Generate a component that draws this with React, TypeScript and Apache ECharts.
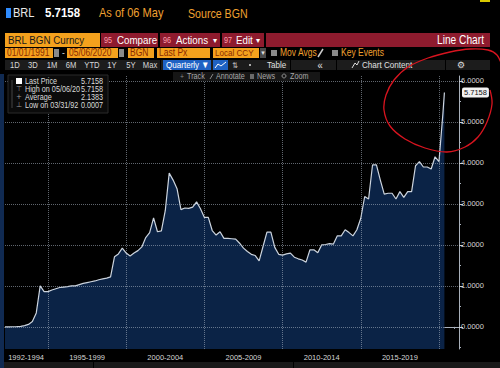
import React, { useEffect, useRef } from "react";
import * as echarts from "echarts";

// ---- data (quarter-end values, BRL per USD) ----
const years = [1992, 1993, 1994, 1995, 1996, 1997, 1998, 1999, 2000, 2001, 2002, 2003, 2004, 2005, 2006, 2007, 2008, 2009, 2010, 2011, 2012, 2013, 2014, 2015, 2016, 2017, 2018, 2019, 2020];
const quarterlyValues = [
  [0.0007, 0.0013, 0.0027, 0.0056],
  [0.01, 0.03, 0.06, 0.13],
  [0.34, 1.0, 0.86, 0.86],
  [0.9, 0.93, 0.96, 0.97],
  [0.98, 1.0, 1.0, 1.03],
  [1.06, 1.08, 1.1, 1.12],
  [1.15, 1.17, 1.19, 1.22],
  [1.71, 1.78, 1.92, 1.8],
  [1.73, 1.8, 1.86, 1.95],
  [2.18, 2.3, 2.66, 2.32],
  [2.34, 2.84, 3.75, 3.58],
  [3.37, 2.86, 2.9, 2.89],
  [2.92, 3.05, 2.88, 2.67],
  [2.67, 2.35, 2.24, 2.32],
  [2.16, 2.16, 2.15, 2.14],
  [2.04, 1.92, 1.84, 1.77],
  [1.74, 1.61, 1.96, 2.31],
  [2.31, 1.94, 1.77, 1.75],
  [1.78, 1.8, 1.7, 1.66],
  [1.63, 1.58, 1.88, 1.88],
  [1.81, 2.0, 2.01, 2.03],
  [2.02, 2.22, 2.22, 2.37],
  [2.3, 2.22, 2.37, 2.65],
  [3.18, 3.12, 3.95, 3.95],
  [3.58, 3.24, 3.26, 3.26],
  [3.12, 3.3, 3.16, 3.3],
  [3.3, 3.93, 4.03, 3.9],
  [3.9, 3.85, 4.15, 4.03],
  [5.2],
];
const lastDate = 2020.347; // 05/06/2020
const lastValue = 5.7158;

const periodLabels = ["1992-1994", "1995-1999", "2000-2004", "2005-2009", "2010-2014", "2015-2019"];
const periodLabelPos = [1993.6, 1997.5, 2002.5, 2007.5, 2012.5, 2017.5];
const periodBounds = [1995, 2000, 2005, 2010, 2015, 2020];
const yearTicks = [1993, 1994, 1996, 1997, 1998, 1999, 2001, 2002, 2003, 2004, 2006, 2007, 2008, 2009, 2011, 2012, 2013, 2014, 2016, 2017, 2018, 2019, 2021];
const yTicks = [0, 1, 2, 3, 4, 5, 6];
const yMinorTicks = [-0.5, 0.5, 1.5, 2.5, 3.5, 4.5, 5.5];

const legendRows = [
  { icon: "sq", label: "Last Price", value: "5.7158" },
  { icon: "⊤", label: "High on 05/06/20", value: "5.7158" },
  { icon: "+", label: "Average", value: "2.1383" },
  { icon: "⊥", label: "Low on 03/31/92", value: "0.0007" },
];

const FONT = '"Liberation Sans", Arial, sans-serif';
const ORANGE = "#f4a11d";
const RED = "#8e1b2e";
const AMBER_TXT = "#f0a030";

function T(x: number, y: number, text: string, fill: string, size: number, extra: any = {}) {
  const s = extra.scale ?? 0.85;
  return {
    type: "text", x, y, z: 100, silent: true, scaleX: s, scaleY: 1,
    style: {
      text, fill, fontSize: size, fontFamily: extra.family || FONT,
      fontWeight: extra.bold ? "bold" : "normal",
      align: extra.align || "left", textAlign: extra.align || "left",
      verticalAlign: "middle", textVerticalAlign: "middle",
    },
  };
}
function R(x: number, y: number, w: number, h: number, fill: string, extra: any = {}) {
  return { type: "rect", z: 90, silent: true, shape: { x, y, width: w, height: h }, style: { fill, ...extra } };
}
function L(x1: number, y1: number, x2: number, y2: number, stroke: string, w = 1) {
  return { type: "line", z: 95, silent: true, shape: { x1, y1, x2, y2 }, style: { stroke, lineWidth: w } };
}

export default function App() {
  const ref = useRef<HTMLDivElement>(null);
  useEffect(() => {
    if (!ref.current) return;
    const chart = echarts.init(ref.current, null, { renderer: "svg" });

    const seriesData: number[][] = [];
    years.forEach((yr, i) => {
      quarterlyValues[i].forEach((v, k) => seriesData.push([yr + (k + 1) / 4, v]));
    });
    seriesData.push([lastDate, lastValue]);

    const g: any[] = [];
    // row 1
    g.push(R(6, 8, 5, 10, "#2f8cff"));
    g.push(T(13, 13, "BRL", "#e8e8e8", 13));
    g.push(T(45, 13, "5.7158", "#ffffff", 13.5, { bold: true }));
    g.push(T(99, 13, "As of 06 May", AMBER_TXT, 13));
    g.push(T(188, 13, "Source BGN", AMBER_TXT, 12.5));
    g.push(R(480, 0, 10, 2, "#d8c800"));
    // row 2
    g.push(R(5, 33, 95, 14, ORANGE));
    g.push(T(8, 40, "BRL BGN Curncy", "#1a1a1a", 11.5));
    g.push(R(101, 33, 57, 14, RED));
    g.push(T(104, 40, "95", "#ff9fb0", 8.5));
    g.push(T(117, 40, "Compare", "#ffffff", 11.5));
    g.push(R(160, 33, 60, 14, RED));
    g.push(T(163, 40, "96", "#ff9fb0", 8.5));
    g.push(T(176, 40, "Actions", "#ffffff", 11.5));
    g.push(T(213, 40, "▾", "#ffffff", 8, { family: "DejaVu Sans", scale: 1 }));
    g.push(R(222, 33, 42, 14, RED));
    g.push(T(224, 40, "97", "#ff9fb0", 8.5));
    g.push(T(236, 40, "Edit", "#ffffff", 11.5));
    g.push(T(256, 40, "▾", "#ffffff", 8, { family: "DejaVu Sans", scale: 1 }));
    g.push(R(266, 33, 224, 14, RED));
    g.push(T(484, 40, "Line Chart", "#ffffff", 12, { align: "right" }));
    // row 3
    const fieldTxt = "#8a2a00";
    g.push(R(5, 48, 48, 10, ORANGE));
    g.push(T(7, 53, "01/01/1991", fieldTxt, 10));
    g.push(R(54, 49, 5, 8, "#8a8a8a"));
    g.push(T(62, 53, "-", "#cccccc", 10));
    g.push(R(67, 48, 51, 10, ORANGE));
    g.push(T(69, 53, "05/06/2020", fieldTxt, 10));
    g.push(R(119, 49, 5, 8, "#8a8a8a"));
    g.push(R(128, 48, 26, 10, ORANGE));
    g.push(T(130, 53, "BGN", fieldTxt, 10));
    g.push(R(157, 48, 53, 10, ORANGE));
    g.push(T(159, 53, "Last Px", fieldTxt, 10));
    g.push(R(213, 48, 46, 10, ORANGE));
    g.push(T(215, 53, "Local CCY", fieldTxt, 9.5));
    g.push(R(260, 48, 6, 10, "#4a4a4a"));
    g.push(T(263, 53, "▾", "#dddddd", 7, { align: "center", family: "DejaVu Sans", scale: 1 }));
    g.push(R(271, 50, 6, 6, "#8a8a8a"));
    g.push(T(280, 53, "Mov Avgs", AMBER_TXT, 10));
    g.push(L(318, 57, 323, 49, "#cccccc", 1.5));
    g.push(R(332, 50, 6, 6, "#8a8a8a"));
    g.push(T(341, 53, "Key Events", AMBER_TXT, 10));
    // row 4
    g.push(R(5, 60, 485, 10, "#1c1c1c"));
    [160, 290, 336, 445].forEach((x) => g.push(R(x, 60, 1, 10, "#000000")));
    const ranges = [["1D", 15], ["3D", 33], ["1M", 52], ["6M", 71], ["YTD", 92], ["1Y", 112], ["5Y", 131], ["Max", 150]];
    ranges.forEach(([t, x]) => g.push(T(x as number, 65, t as string, "#d8d8d8", 9, { align: "center" })));
    g.push(R(163, 60, 48, 10, "#1f62c4"));
    g.push(T(166, 65, "Quarterly ▼", "#ffffff", 9.5));
    g.push(R(213, 60, 15, 10, "#1f62c4"));
    g.push({ type: "polyline", z: 100, silent: true, shape: { points: [[215, 68], [218, 64], [221, 66], [226, 62]] }, style: { stroke: "#ffffff", lineWidth: 1, fill: null } });
    g.push(T(235, 65, "⇅", "#cccccc", 8, { align: "center", family: "DejaVu Sans" }));
    g.push(R(249, 64, 2, 2, "#aaaaaa"));
    g.push(T(267, 65, "Table", "#e0e0e0", 9.5));
    g.push(T(320, 65, "«", "#e0e0e0", 11, { align: "center" }));
    g.push({ type: "polyline", z: 100, silent: true, shape: { points: [[352, 68], [355, 63], [357, 65], [359, 61]] }, style: { stroke: "#dddddd", lineWidth: 1, fill: null } });
    g.push(T(362, 65, "Chart Content", "#e0e0e0", 9.5));
    g.push(T(461, 65, "⚙", "#dddddd", 9, { align: "center", family: "DejaVu Sans", scale: 1 }));
    // row 5
    g.push(R(173, 72, 147, 9, "#161616"));
    g.push(T(182, 76.5, "+", "#8a8a8a", 8, { align: "center" }));
    g.push(T(187, 76.5, "Track", "#a8a8a8", 8.5));
    g.push(L(210, 79, 213, 74, "#8a8a8a"));
    g.push(T(216, 76.5, "Annotate", "#a8a8a8", 8.5));
    g.push(R(250, 74, 4, 5, "#6a6a6a"));
    g.push(T(257, 76.5, "News", "#a8a8a8", 8.5));
    g.push({ type: "circle", z: 100, silent: true, shape: { cx: 284, cy: 76, r: 2 }, style: { stroke: "#8a8a8a", fill: null, lineWidth: 1 } });
    g.push(T(290, 76.5, "Zoom", "#a8a8a8", 8.5));
    // legend box
    g.push(R(8, 75, 100, 38, "#0b0b0b", { stroke: "#2a2a2a", lineWidth: 1 }));
    g.push(L(12, 80, 12, 108, "#444444"));
    legendRows.forEach((r, i) => {
      const y = 81 + i * 8;
      if (r.icon === "sq") g.push(R(16, y - 3, 6, 6, "#ffffff", { z: 101 }));
      else g.push(T(19, y, r.icon, "#9a9a9a", 7, { align: "center", family: "DejaVu Sans", scale: 1 }));
      g.push(T(25, y, r.label, "#dcdcdc", 8.5));
      g.push(T(103, y, r.value, "#dcdcdc", 8.5, { align: "right" }));
    });
    // frame bits
    g.push(R(0, 74, 4, 294, "#102a52"));
    g.push(R(4, 362, 496, 6, "#1a1a1a"));
    g.push(R(93, 362, 1, 6, "#000000"));
    g.push(R(293, 362, 1, 6, "#000000"));
    // hand-drawn red loop
    g.push({
      type: "polyline", z: 120, silent: true,
      shape: {
        smooth: 0.35,
        points: [[502, 66], [497, 55], [488, 50], [470, 49], [450, 52], [428, 58], [408, 67], [394, 80], [386, 95], [384, 110], [390, 126], [405, 139], [425, 148], [447, 152], [465, 147], [478, 137], [487, 122], [492, 104], [490, 90]],
      },
      style: { stroke: "#d8141f", lineWidth: 1.3, fill: null },
    });

    const axisColor = "#a8b0ba";
    const gridStyle = { type: "dotted", color: "rgba(175,185,200,0.55)", width: 1 };

    const markData: any[] = [
      ...periodBounds.map((x) => ({ xAxis: x, lineStyle: gridStyle, label: { show: false } })),
      ...yTicks.map((y) => ({ yAxis: y, lineStyle: gridStyle, label: { show: false } })),
      {
        yAxis: lastValue,
        lineStyle: { color: "transparent", width: 0 },
        label: {
          show: true, position: "end", distance: 3, formatter: "5.7158", color: "#111111",
          backgroundColor: "#f2f2f2", padding: [1, 2, 1, 2], borderRadius: 2, fontSize: 7.5, fontFamily: FONT,
        },
      },
    ];

    chart.setOption({
      animation: false,
      backgroundColor: "#000000",
      grid: { left: 5, right: 41, top: 76, bottom: 19 },
      xAxis: [
        {
          type: "value", min: 1992.25, max: 2021.28,
          axisLine: { show: true, lineStyle: { color: axisColor, width: 1 } },
          axisTick: { show: true, customValues: periodBounds, length: 11, lineStyle: { color: "#6a6f76" } },
          axisLabel: {
            customValues: periodLabelPos, color: "#d6d6d6", fontSize: 7.5, fontFamily: FONT, margin: 4,
            formatter: (v: number) => { const i = periodLabelPos.findIndex((p) => Math.abs(p - v) < 0.01); return i >= 0 ? periodLabels[i] : ""; },
          },
          splitLine: { show: false },
        },
        {
          type: "value", min: 1992.25, max: 2021.28, position: "bottom",
          axisLine: { show: false }, axisLabel: { show: false }, splitLine: { show: false },
          axisTick: { show: true, customValues: yearTicks, length: 2, lineStyle: { color: axisColor } },
        },
      ],
      yAxis: [
        {
          type: "value", position: "right", min: -0.54, max: 6.12,
          axisLine: { show: true, lineStyle: { color: axisColor, width: 1 } },
          axisTick: { show: true, customValues: yTicks, length: 4, lineStyle: { color: "#d0d0d0" } },
          axisLabel: { customValues: yTicks, color: "#d6d6d6", fontSize: 7.5, fontFamily: FONT, margin: 2, formatter: (v: number) => v.toFixed(4) },
          splitLine: { show: false },
        },
        {
          type: "value", position: "right", min: -0.54, max: 6.12,
          axisLine: { show: false }, axisLabel: { show: false }, splitLine: { show: false },
          axisTick: { show: true, customValues: yMinorTicks, length: 2, lineStyle: { color: axisColor } },
        },
      ],
      series: [
        {
          type: "line", data: seriesData, xAxisIndex: 0, yAxisIndex: 0,
          showSymbol: false, symbol: "none",
          lineStyle: { color: "#ccd4de", width: 1.2 },
          areaStyle: { color: "#0b2346", opacity: 1, origin: "start" },
          markLine: {
            silent: true, symbol: ["none", "none"],
            label: { show: false },
            data: markData,
          },
        },
      ],
      graphic: g,
    });
    return () => chart.dispose();
  }, []);
  return <div ref={ref} style={{ position: "fixed", left: 0, top: 0, width: 500, height: 368, background: "#000" }} />;
}
